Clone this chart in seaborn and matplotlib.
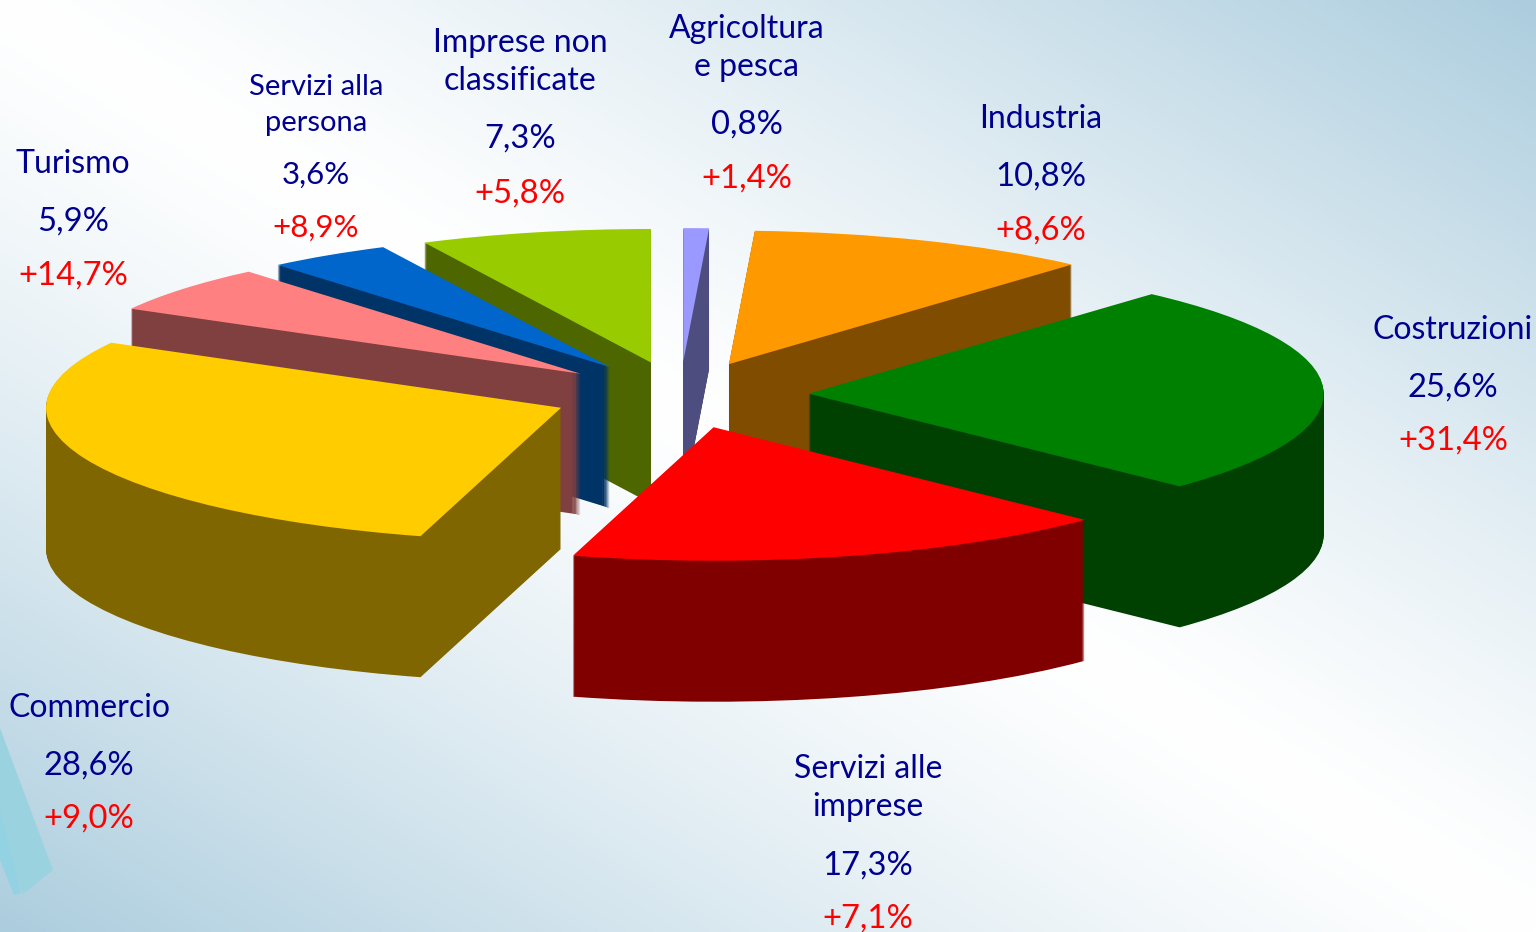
import numpy as np
import matplotlib
matplotlib.use("Agg")
import matplotlib.pyplot as plt
from matplotlib.patches import Polygon
import seaborn as sns

# ---- data (clockwise from 12 o'clock) ----
sectors = ["Agricoltura\ne pesca", "Industria", "Costruzioni", "Servizi alle\nimprese",
           "Commercio", "Turismo", "Servizi alla\npersona", "Imprese non\nclassificate"]
shares = [0.8, 10.8, 25.6, 17.3, 28.6, 5.9, 3.6, 7.3]          # as printed on the labels
slice_sizes = [0.8, 10.8, 25.6, 17.2, 28.7, 5.75, 3.9, 7.25]
changes = [1.4, 8.6, 31.4, 7.1, 9.0, 14.7, 8.9, 5.8]
top_colors = ["#9999FF", "#FF9900", "#008000", "#FF0000", "#FFCC00", "#FF8080", "#0066CC", "#99CC00"]
side_colors = ["#4D4D80", "#804D00", "#004000", "#800000", "#806600", "#804040", "#003366", "#4D6600"]

# ---- layout ----
W, H = 1536, 932
CX, CY = 680, 395      # pie centre in pixels
RX, RY = 515, 133.5    # projected radii in pixels
DEPTH = 141            # extrusion in pixels
EXPLODE = 0.25
paint_rank = [1, 2, 6, 7, 5, 4, 3, 0]   # back-to-front order per slice
# centre x, baseline of the name's first line, second line step, value, change, font size
label_pos = [
    (747, 38, 38, 134, 188, 23.0),
    (1041, 128, 0, 186, 240, 23.0),
    (1453, 339, 0, 397, 450, 23.0),
    (868, 778, 38, 875, 928, 23.0),
    (89, 717, 0, 775, 828, 23.0),
    (73, 173, 0, 231, 285, 23.0),
    (316, 95, 36, 184, 237, 21.0),
    (520, 52, 38, 148, 203, 23.0),
]
FONT = "Lato"

sns.set_theme(style="white", rc={"font.family": FONT})
fig = plt.figure(figsize=(W / 100, H / 100), dpi=100)

# background gradient: white diagonal, pale blue towards two corners
bg = fig.add_axes([0, 0, 1, 1], zorder=0)
yy, xx = np.mgrid[0:1:233j, 0:1:384j]
t = np.abs(xx - yy) ** 1.25
edge = np.array([172, 205, 222]) / 255
img = (1 - t[..., None]) * 1 + t[..., None] * edge
bg.imshow(img, extent=(0, W, H, 0), aspect="auto", interpolation="bilinear")
for verts, col in [
    ([(0, 728), (53, 870), (23, 894), (0, 835)], "#9AD3DF"),
    ([(0, 810), (21, 893), (14, 895), (0, 860)], "#93D2E2"),
]:
    bg.add_patch(Polygon(verts, closed=True, facecolor=col, edgecolor="none"))
bg.set_xlim(0, W)
bg.set_ylim(H, 0)
bg.axis("off")

# pie axes: one data unit = RX px horizontally, RY px vertically
ax = fig.add_axes([0, 0, 1, 1], zorder=1)
ax.patch.set_alpha(0)
explode = [EXPLODE] * len(shares)
for px in range(DEPTH, -1, -1):
    wedges, _ = ax.pie(slice_sizes, explode=explode, startangle=90, counterclock=False,
                       center=(0, -px / RY), radius=1,
                       colors=side_colors if px else top_colors,
                       wedgeprops=dict(linewidth=0))
    for w, r in zip(wedges, paint_rank):
        w.set_zorder(r * 10 + (0 if px else 1))
ax.set_aspect("auto")
ax.set_xlim(-CX / RX, (W - CX) / RX)
ax.set_ylim((CY - H) / RY, CY / RY)
sns.despine(ax=ax, left=True, bottom=True)
ax.axis("off")

# labels
NAVY, RED = "#000090", "#FF0000"
def put(x, y, s, c, fs):
    fig.text(x / W, 1 - y / H, s, color=c, fontsize=fs, ha="center", va="baseline", zorder=5)

for name, sh, ch, (x, y0, step, yv, yc, fs) in zip(sectors, shares, changes, label_pos):
    for i, line in enumerate(name.split("\n")):
        put(x, y0 + i * step, line, NAVY, fs)
    put(x, yv, f"{sh:.1f}%".replace(".", ","), NAVY, 23.6 if fs > 22 else 22.5)
    put(x, yc, f"+{ch:.1f}%".replace(".", ","), RED, 23.6 if fs > 22 else 22.5)

fig.savefig("out.png", dpi=100)
